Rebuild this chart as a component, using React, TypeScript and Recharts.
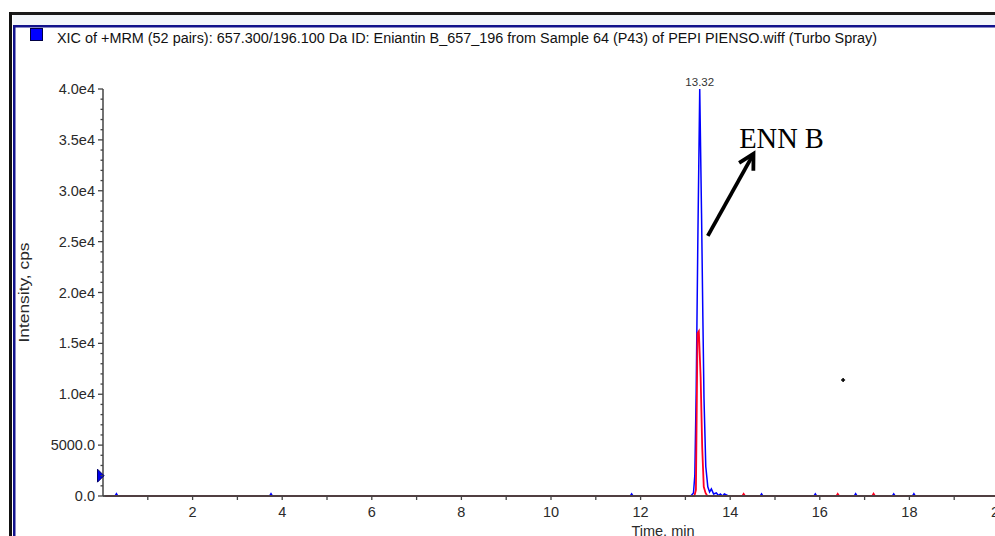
import React from 'react';
import { LineChart, Line, XAxis, YAxis, ReferenceDot, ReferenceLine } from 'recharts';

// ---- data ----
const blueTimes = [0.05, 0.27, 0.3, 0.33, 3.72, 3.75, 3.78, 11.77, 11.8, 11.83, 13.12, 13.18, 13.21, 13.24, 13.28, 13.32, 13.36, 13.39, 13.415, 13.455, 13.5, 13.54, 13.58, 13.63, 13.69, 13.74, 13.78, 13.83, 13.87, 13.96, 14.67, 14.7, 14.73, 15.87, 15.9, 15.93, 16.77, 16.8, 16.83, 17.62, 17.65, 17.68, 18.07, 18.1, 18.13, 19.95];
const blueIntensity = [0, 0, 220, 0, 0, 220, 0, 0, 200, 0, 0, 300, 2000, 10000, 26000, 40000, 27800, 17500, 9600, 2900, 900, 400, 700, 200, 300, 50, 200, 0, 200, 0, 0, 200, 0, 0, 200, 0, 0, 220, 0, 0, 200, 0, 0, 220, 0, 0];
const redTimes = [0.05, 13.2, 13.235, 13.27, 13.3, 13.34, 13.375, 13.41, 13.45, 13.49, 14.27, 14.3, 14.33, 16.37, 16.4, 16.43, 17.17, 17.2, 17.23, 19.95];
const redIntensity = [0, 0, 600, 16000, 16200, 11700, 4800, 900, 300, 0, 0, 200, 0, 0, 200, 0, 0, 220, 0, 0];

const xTicks = [1, 2, 3, 4, 5, 6, 7, 8, 9, 10, 11, 12, 13, 14, 15, 16, 17, 18, 19, 20];
const yTicks = Array.from({ length: 41 }, (_, i) => i * 1000);

const titleText = 'XIC of +MRM (52 pairs): 657.300/196.100 Da ID: Eniantin B_657_196 from Sample 64 (P43) of PEPI PIENSO.wiff (Turbo Spray)';
const yAxisTitle = 'Intensity, cps';
const xAxisTitle = 'Time, min';
const peakTime = 13.32;
const peakIntensity = 40000;
const peakLabel = '13.32';
const annotationText = 'ENN B';
const annotationPos = { t: 14.2, v: 34200 };
const arrowFrom = { t: 13.5, v: 25560 };
const arrowTo = { t: 14.52, v: 33630 };
const strayPoint = { t: 16.52, v: 11400 };
const thresholdMarker = { t: 0, v: 2000 };

const blueData = blueTimes.map((t, i) => ({ t, v: blueIntensity[i] }));
const redData = redTimes.map((t, i) => ({ t, v: redIntensity[i] }));

const FONT = 'Arial, "Liberation Sans", sans-serif';
const TXT = '#2a2a2a';

const fmtY = (v: number) => {
  if (v === 0) return '0.0';
  if (v < 10000) return v.toFixed(1);
  return (v / 10000).toFixed(1) + 'e4';
};

const YTick = (props: any) => {
  const { x, y, payload } = props;
  const v = payload.value as number;
  const major = v % 5000 === 0;
  return (
    <g>
      <line x1={x} x2={x - (major ? 5 : 2.5)} y1={y} y2={y} stroke="#444" strokeWidth={1.3} />
      {major && (
        <text x={x - 8} y={y + 5} textAnchor="end" fontSize={14.5} fontFamily={FONT} fill={TXT}>
          {fmtY(v)}
        </text>
      )}
    </g>
  );
};

const XTick = (props: any) => {
  const { x, y, payload } = props;
  const v = payload.value as number;
  return (
    <g>
      <line x1={x} x2={x} y1={y} y2={y + 4} stroke="#444" strokeWidth={1.3} />
      {v % 2 === 0 && (
        <text x={x} y={y + 21} textAnchor="middle" fontSize={14.5} fontFamily={FONT} fill={TXT}>
          {String(v)}
        </text>
      )}
    </g>
  );
};

const ArrowShape = (props: any) => {
  const { x1, y1, x2, y2 } = props;
  if ([x1, y1, x2, y2].some((n) => typeof n !== 'number' || isNaN(n))) return null;
  const ang = Math.atan2(y2 - y1, x2 - x1);
  const L = 17;
  const spread = 0.5;
  const a1x = x2 - L * Math.cos(ang - spread);
  const a1y = y2 - L * Math.sin(ang - spread);
  const a2x = x2 - L * Math.cos(ang + spread);
  const a2y = y2 - L * Math.sin(ang + spread);
  return (
    <g>
      <line x1={x1} y1={y1} x2={x2} y2={y2} stroke="#000" strokeWidth={3.8} />
      <polyline points={`${a1x},${a1y} ${x2},${y2} ${a2x},${a2y}`} fill="none" stroke="#000" strokeWidth={3.8} strokeLinejoin="miter" />
    </g>
  );
};

export default function App() {
  return (
    <div style={{ position: 'absolute', left: 0, top: 0, width: 995, height: 536, overflow: 'hidden', background: '#fff' }}>
      <svg width={1010} height={560} style={{ position: 'absolute', left: 0, top: 0 }}>
        <rect x={9} y={12} width={1010} height={3} fill="#1a1a1a" />
        <rect x={9} y={12} width={3} height={560} fill="#111" />
        <rect x={13} y={15} width={1000} height={10} fill="#f3f6fb" />
        <rect x={13} y={25} width={1000} height={2.5} fill="#12128c" />
        <rect x={13} y={25} width={2.5} height={560} fill="#12128c" />
        <rect x={30.5} y={28.5} width={12} height={12} fill="#0000ff" stroke="#000044" strokeWidth={1} />
        <text x={57} y={43} fontSize={14} fontFamily={FONT} fill="#111" textLength={820} lengthAdjust="spacingAndGlyphs">
          {titleText}
        </text>
      </svg>
      <div style={{ position: 'absolute', left: 0, top: 0 }}>
        <LineChart width={1010} height={560} margin={{ top: 89, right: 11, bottom: 34, left: 43 }}>
          <Line data={blueData} dataKey="v" type="linear" stroke="#0000ff" strokeWidth={1.5} dot={false} isAnimationActive={false} />
          <Line data={redData} dataKey="v" type="linear" stroke="#ff0022" strokeWidth={1.8} dot={false} isAnimationActive={false} />
          <XAxis
            dataKey="t"
            type="number"
            domain={[0, 20]}
            ticks={xTicks}
            interval={0}
            allowDataOverflow
            height={30}
            tickSize={0}
            tickMargin={0}
            tickLine={false}
            axisLine={{ stroke: '#444', strokeWidth: 1.5 }}
            tick={<XTick />}
            label={{
              content: (p: any) => {
                const vb = p.viewBox || { x: 103, y: 496 };
                return (
                  <text x={vb.x + 560} y={vb.y + 40} textAnchor="middle" fontSize={14.5} fontFamily={FONT} fill={TXT}>
                    {xAxisTitle}
                  </text>
                );
              },
            }}
          />
          <YAxis
            type="number"
            domain={[0, 40000]}
            ticks={yTicks}
            interval={0}
            width={60}
            tickSize={0}
            tickMargin={0}
            tickLine={false}
            axisLine={{ stroke: '#444', strokeWidth: 1.5 }}
            tick={<YTick />}
            label={{
              content: (p: any) => {
                const vb = p.viewBox || { x: 43, y: 89, width: 60, height: 407 };
                const cx = vb.x - 14;
                const cy = vb.y + vb.height / 2;
                return (
                  <text x={cx} y={cy} transform={`rotate(-90 ${cx} ${cy})`} textAnchor="middle" fontSize={14} fontFamily={FONT} fill={TXT} textLength={100} lengthAdjust="spacingAndGlyphs">
                    {yAxisTitle}
                  </text>
                );
              },
            }}
          />
          <ReferenceLine y={0} stroke="#444" strokeWidth={1.5} ifOverflow="visible" />
          <ReferenceDot
            x={peakTime}
            y={peakIntensity}
            r={0}
            ifOverflow="visible"
            label={{ value: peakLabel, position: 'top', offset: 3, fontSize: 11.5, fontFamily: FONT, fill: '#333' }}
          />
          <ReferenceLine
            segment={[{ x: arrowFrom.t, y: arrowFrom.v }, { x: arrowTo.t, y: arrowTo.v }]}
            ifOverflow="visible"
            shape={<ArrowShape />}
          />
          <ReferenceDot
            x={annotationPos.t}
            y={annotationPos.v}
            r={0}
            ifOverflow="visible"
            label={{
              content: (p: any) => {
                const vb = p.viewBox || {};
                return (
                  <text x={vb.x} y={vb.y} fontSize={28.5} fontFamily='"Liberation Serif", "Times New Roman", serif' fill="#000">
                    {annotationText}
                  </text>
                );
              },
            }}
          />
          <ReferenceDot
            x={strayPoint.t}
            y={strayPoint.v}
            ifOverflow="visible"
            shape={(p: any) => (
              <g>
                <line x1={p.cx - 2} x2={p.cx + 2} y1={p.cy} y2={p.cy} stroke="#000" strokeWidth={1.5} />
                <line x1={p.cx} x2={p.cx} y1={p.cy - 2} y2={p.cy + 2} stroke="#000" strokeWidth={1.5} />
              </g>
            )}
          />
          <ReferenceDot
            x={thresholdMarker.t}
            y={thresholdMarker.v}
            ifOverflow="visible"
            shape={(p: any) => (
              <polygon
                points={`${p.cx - 5.5},${p.cy - 6.5} ${p.cx + 1},${p.cy} ${p.cx - 5.5},${p.cy + 6.5}`}
                fill="#0000ee"
                stroke="#000066"
                strokeWidth={1}
              />
            )}
          />
        </LineChart>
      </div>
    </div>
  );
}
